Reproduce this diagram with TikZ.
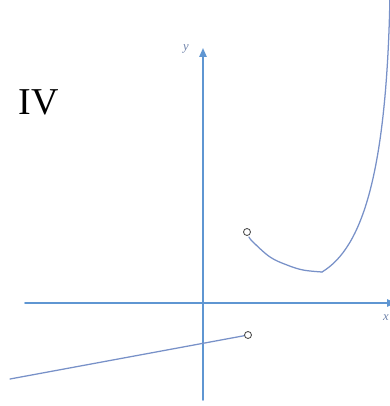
\documentclass[tikz,border=0pt]{standalone}
\usepackage{fontspec}
\setmainfont{Liberation Serif}
\usetikzlibrary{arrows.meta}
\definecolor{axisblue}{RGB}{95,150,210}
\definecolor{curveblue}{RGB}{120,145,200}
\definecolor{labelgray}{RGB}{110,130,170}

\begin{document}
\begin{tikzpicture}[>={Triangle[length=2.2mm,width=1.8mm]},line cap=round,
  hole/.style={draw=black!70,fill=white,line width=0.6pt}]
\useasboundingbox (0,0) rectangle (9.75,10.15);
% axes
\draw[axisblue,line width=1.1pt,->] (0.625,2.575) -- (9.9,2.575);
\draw[axisblue,line width=1.1pt,->] (5.075,0.15) -- (5.075,8.95);
\node[labelgray,font=\itshape\small] at (9.65,2.2) {x};
\node[labelgray,font=\itshape\small] at (4.65,8.93) {y};
\node[font=\fontsize{27}{30}\selectfont] at (0.975,7.6) {IV};
% right piece
\draw[curveblue,line width=0.9pt] plot[smooth,tension=0.6] coordinates
  {(6.225,4.225) (6.325,4.1) (6.75,3.725) (7.175,3.525) (7.575,3.4) (8.05,3.35)};
\draw[curveblue,line width=0.9pt] (8.05,3.35) .. controls (9.05,3.95) and (9.67,5.8) .. (9.75,10.3);
% left piece
\coordinate (lineend) at (0.25,0.675);
\coordinate (linehole) at (6.2,1.775);
\draw[curveblue,line width=0.9pt] (lineend) -- (linehole);
\draw[hole] (6.175,4.35) circle (2.5pt);
\draw[hole] (linehole) circle (2.5pt);
\end{tikzpicture}
\end{document}
